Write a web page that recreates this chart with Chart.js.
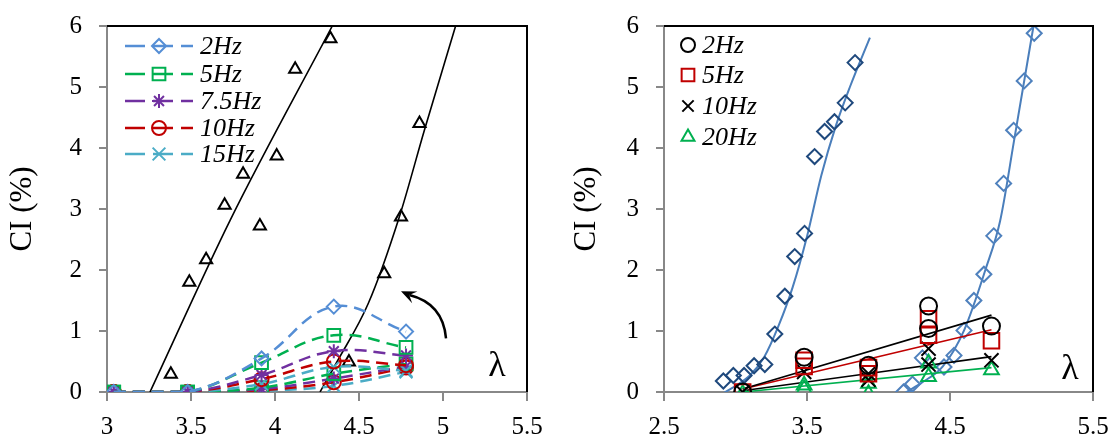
<!DOCTYPE html>
<html lang="en">
  <head>
    <meta charset="UTF-8" />
    <script src="https://cdn.jsdelivr.net/npm/chart.js@4.4.1/dist/chart.umd.min.js"></script>
    <style>
      body { margin: 0; background: #fff; }
      .panel { position: absolute; top: 0; height: 437px; }
      #left { left: 0; width: 555px; }
      #right { left: 564px; width: 546px; }
    </style>
  </head>
  <body>
    <div class="panel" id="left"><canvas id="leftChart"></canvas></div>
    <div class="panel" id="right"><canvas id="rightChart"></canvas></div>

    <script>
      // ---- left panel data ----
      var leftX = [3.04, 3.48, 3.92, 4.35, 4.78];
      var hz2 = [0, 0, 0.55, 1.40, 0.99];
      var hz5 = [0, 0, 0.48, 0.93, 0.73];
      var hz75 = [0, 0, 0.28, 0.67, 0.60];
      var hz10 = [0, 0, 0.21, 0.50, 0.44];
      var hz15 = [0, 0, 0.13, 0.41, 0.35];
      // second (lower) run of each frequency
      var hz5b = [0, 0, 0.07, 0.30, 0.46];
      var hz75b = [0, 0, 0.05, 0.22, 0.42];
      var hz10b = [0, 0, 0.03, 0.16, 0.40];
      var hz15b = [0, 0, 0.02, 0.10, 0.33];
      var leftLabels = ["2Hz", "5Hz", "7.5Hz", "10Hz", "15Hz"];

      var triX = [3.38, 3.49, 3.59, 3.70, 3.81, 3.91, 4.01, 4.12, 4.33, 4.44, 4.65, 4.75, 4.86];
      var triY = [0.29, 1.80, 2.17, 3.06, 3.57, 2.72, 3.87, 5.29, 5.79, 0.49, 1.94, 2.87, 4.40];
      var fit1X = [3.256, 3.732, 4.341];
      var fit1Y = [0, 2.81, 6];
      var fit2X = [4.268, 4.37, 4.555, 4.74, 4.89, 5.075];
      var fit2Y = [0, 0.5, 1.45, 2.87, 4.3, 6];

      // ---- right panel data ----
      var diaAX = [2.915, 2.985, 3.06, 3.13, 3.205, 3.275, 3.345, 3.414, 3.483, 3.553, 3.623, 3.692, 3.767, 3.836];
      var diaAY = [0.18, 0.27, 0.27, 0.43, 0.45, 0.95, 1.57, 2.22, 2.60, 3.86, 4.27, 4.43, 4.74, 5.40];
      var fitAX = [2.90, 3.0, 3.1, 3.2, 3.3, 3.4, 3.5, 3.6, 3.7, 3.8, 3.94];
      var fitAY = [-0.04, 0.10, 0.27, 0.57, 1.08, 1.72, 2.55, 3.55, 4.35, 5.0, 5.81];
      var diaBX = [4.175, 4.238, 4.307, 4.458, 4.528, 4.598, 4.667, 4.737, 4.806, 4.875, 4.945, 5.019, 5.089];
      var diaBY = [0.0, 0.13, 0.56, 0.41, 0.60, 1.01, 1.50, 1.93, 2.56, 3.42, 4.29, 5.10, 5.88];
      var fitBX = [4.16, 4.3, 4.45, 4.6, 4.75, 4.85, 4.95, 5.084];
      var fitBY = [-0.05, 0.15, 0.42, 1.02, 2.02, 2.80, 4.15, 6.0];

      var c2X = [3.05, 3.48, 3.93, 4.35, 4.35, 4.79];
      var c2Y = [0, 0.57, 0.44, 1.41, 1.04, 1.08];
      var s5X = [3.05, 3.48, 3.48, 3.93, 3.93, 4.35, 4.35, 4.79];
      var s5Y = [0, 0.52, 0.42, 0.40, 0.30, 1.20, 0.93, 0.84];
      var x10X = [3.05, 3.48, 3.93, 3.93, 4.35, 4.35, 4.79];
      var x10Y = [0, 0.33, 0.30, 0.20, 0.71, 0.45, 0.52];
      var t20X = [3.05, 3.48, 3.48, 3.93, 3.93, 4.35, 4.35, 4.79];
      var t20Y = [-0.03, 0.11, 0.05, 0.14, -0.03, 0.47, 0.25, 0.36];
      var fitLineX = [3.05, 4.79];
      var fit2HzY = [0.05, 1.26];
      var fit5HzY = [0.05, 1.02];
      var fit10HzY = [0.02, 0.58];
      var fit20HzY = [0, 0.40];
      var rightLabels = ["2Hz", "5Hz", "10Hz", "20Hz"];

      var serif = "'Liberation Serif', 'Times New Roman', serif";
      var pts = function (xs, ys) { return xs.map(function (x, i) { return { x: x, y: ys[i] }; }); };

      function dashed(label, ys, color, style, r, legend) {
        return {
          label: label, data: pts(leftX, ys), borderColor: color, backgroundColor: "transparent",
          borderWidth: 2.5, borderDash: [12, 7], tension: 0.4,
          pointStyle: style, pointRadius: r, pointBorderWidth: 2,
          pointBorderColor: color, pointBackgroundColor: "transparent", inLegend: legend
        };
      }
      function plainLine(xs, ys, color, w) {
        return { data: pts(xs, ys), borderColor: color, borderWidth: w, pointRadius: 0, tension: 0.4, cubicInterpolationMode: "monotone", fill: false };
      }
      function markers(label, xs, ys, color, style, r) {
        return { label: label, data: pts(xs, ys), showLine: false, pointStyle: style, pointRadius: r, pointBorderWidth: 2, pointBorderColor: color, pointBackgroundColor: "transparent", borderColor: color, inLegend: true };
      }

      // fixed axis boxes so the plot area lands where the original has it
      function noPad(s) { s.paddingTop = 0; s.paddingBottom = 0; s.paddingLeft = 0; s.paddingRight = 0; }

      function axes(min, max, step, yWidth) {
        return {
          x: {
            type: "linear", min: min, max: max,
            ticks: { stepSize: step, font: { family: serif, size: 25 }, color: "#000", padding: 11, maxRotation: 0,
                     callback: function (v) { return String(Math.round(v * 10) / 10); } },
            grid: { drawOnChartArea: false, tickLength: 9, color: "#888", lineWidth: 2 },
            border: { color: "#888", width: 2 },
            afterFit: function (s) { s.height = 45; noPad(s); }
          },
          y: {
            min: 0, max: 6,
            ticks: { stepSize: 1, font: { family: serif, size: 25 }, color: "#000", padding: 17 },
            grid: { drawOnChartArea: false, tickLength: 8, color: "#888", lineWidth: 2 },
            border: { color: "#888", width: 2 },
            title: { display: true, text: "CI (%)", font: { family: serif, size: 31 }, color: "#000", padding: 4 },
            afterFit: function (s) { s.width = yWidth; noPad(s); }
          }
        };
      }

      // frame, legend, lambda label and arrow
      var decor = {
        id: "decor",
        afterDatasetsDraw: function (chart, args, opts) {
          var ctx = chart.ctx, a = chart.chartArea;
          ctx.save();
          ctx.strokeStyle = "#000";
          ctx.lineWidth = 2;
          ctx.beginPath();
          ctx.moveTo(a.left, a.top);
          ctx.lineTo(a.right, a.top);
          ctx.lineTo(a.right, a.bottom);
          ctx.stroke();

          // lambda
          ctx.fillStyle = "#000";
          ctx.font = "36px " + serif;
          ctx.textAlign = "center";
          ctx.textBaseline = "middle";
          ctx.fillText("λ", opts.lambdaX, opts.lambdaY);

          // legend
          var items = chart.data.datasets.filter(function (d) { return d.inLegend; });
          ctx.font = "italic 26px " + serif;
          ctx.textAlign = "left";
          items.forEach(function (d, i) {
            var y = opts.legendY[i];
            if (opts.legendLine) {
              ctx.save();
              ctx.strokeStyle = d.borderColor;
              ctx.lineWidth = 2.5;
              ctx.setLineDash([20, 8]);
              ctx.beginPath();
              ctx.moveTo(opts.legendLineX[0], y);
              ctx.lineTo(opts.legendLineX[1], y);
              ctx.stroke();
              ctx.restore();
            }
            ctx.save();
            ctx.strokeStyle = d.pointBorderColor;
            ctx.fillStyle = "rgba(0,0,0,0)";
            Chart.helpers.drawPoint(ctx, { pointStyle: d.pointStyle, radius: opts.legendR[i], rotation: 0, borderWidth: 2 }, opts.legendMarkX, y);
            ctx.restore();
            ctx.fillStyle = "#000";
            ctx.fillText(d.label, opts.legendTextX, y + 1);
          });

          // curved arrow (data-space anchors)
          if (opts.arrow) {
            var sx = chart.scales.x, sy = chart.scales.y, p = opts.arrow;
            var P = p.map(function (q) { return [sx.getPixelForValue(q[0]), sy.getPixelForValue(q[1])]; });
            ctx.lineWidth = 2.5;
            ctx.beginPath();
            ctx.moveTo(P[0][0], P[0][1]);
            ctx.quadraticCurveTo(P[1][0], P[1][1], P[2][0], P[2][1]);
            ctx.stroke();
            var tip = P[3], dx = tip[0] - P[2][0], dy = tip[1] - P[2][1];
            var len = Math.sqrt(dx * dx + dy * dy), ux = dx / len, uy = dy / len;
            var L = 15, W = 6.5;
            ctx.beginPath();
            ctx.moveTo(tip[0], tip[1]);
            ctx.lineTo(tip[0] - ux * L - uy * W, tip[1] - uy * L + ux * W);
            ctx.lineTo(tip[0] - ux * L * 0.6, tip[1] - uy * L * 0.6);
            ctx.lineTo(tip[0] - ux * L + uy * W, tip[1] - uy * L - ux * W);
            ctx.closePath();
            ctx.fill();
          }
          ctx.restore();
        }
      };

      new Chart(document.getElementById("leftChart"), {
        type: "line",
        data: {
          datasets: [
            dashed(leftLabels[0], hz2, "#558ED5", "rectRot", 7, true),
            dashed(leftLabels[1], hz5, "#00B050", "rect", 9, true),
            dashed(leftLabels[2], hz75, "#7030A0", "star", 7, true),
            dashed(leftLabels[3], hz10, "#C00000", "circle", 7, true),
            dashed(leftLabels[4], hz15, "#4BACC6", "crossRot", 9, true),
            dashed("5Hz b", hz5b, "#00B050", "rect", 9, false),
            dashed("7.5Hz b", hz75b, "#7030A0", "star", 7, false),
            dashed("10Hz b", hz10b, "#C00000", "circle", 7, false),
            dashed("15Hz b", hz15b, "#4BACC6", "crossRot", 9, false),
            Object.assign(markers("tri", triX, triY, "#000", "triangle", 7), { inLegend: false }),
            plainLine(fit1X, fit1Y, "#000", 1.6),
            plainLine(fit2X, fit2Y, "#000", 1.6)
          ]
        },
        options: {
          responsive: true, maintainAspectRatio: false, animation: false,
          layout: { padding: { top: 26, right: 28, left: 0, bottom: 0 } },
          scales: axes(3, 5.5, 0.5, 107),
          plugins: {
            legend: { display: false }, tooltip: { enabled: false },
            decor: {
              lambdaX: 497, lambdaY: 367,
              legendLine: true, legendLineX: [125, 193], legendMarkX: 159,
              legendTextX: 200, legendY: [46, 74, 101, 128, 154], legendR: [7, 9, 7, 7, 9],
              arrow: [[5.018, 0.88], [5.0, 1.45], [4.80, 1.59], [4.75, 1.65]]
            }
          }
        },
        plugins: [decor]
      });

      new Chart(document.getElementById("rightChart"), {
        type: "line",
        data: {
          datasets: [
            markers(rightLabels[0], c2X, c2Y, "#000", "circle", 8.5),
            markers(rightLabels[1], s5X, s5Y, "#C00000", "rect", 11),
            markers(rightLabels[2], x10X, x10Y, "#000", "crossRot", 10),
            markers(rightLabels[3], t20X, t20Y, "#00B050", "triangle", 8.5),
            plainLine(fitLineX, fit2HzY, "#000", 1.6),
            plainLine(fitLineX, fit5HzY, "#C00000", 1.6),
            plainLine(fitLineX, fit10HzY, "#000", 1.6),
            plainLine(fitLineX, fit20HzY, "#00B050", 1.6),
            Object.assign(markers("a", diaAX, diaAY, "#1F497D", "rectRot", 7.5), { inLegend: false }),
            Object.assign(markers("b", diaBX, diaBY, "#4F81BD", "rectRot", 7.5), { inLegend: false }),
            plainLine(fitAX, fitAY, "#4A7EBB", 2),
            plainLine(fitBX, fitBY, "#4A7EBB", 2)
          ]
        },
        options: {
          responsive: true, maintainAspectRatio: false, animation: false,
          layout: { padding: { top: 26, right: 17, left: 0, bottom: 0 } },
          scales: axes(2.5, 5.5, 1, 100),
          plugins: {
            legend: { display: false }, tooltip: { enabled: false },
            decor: {
              lambdaX: 506, lambdaY: 370,
              legendLine: false, legendMarkX: 124,
              legendTextX: 138, legendY: [45, 75, 106, 137], legendR: [7, 9, 8, 7.5]
            }
          }
        },
        plugins: [decor]
      });
    </script>
  </body>
</html>
